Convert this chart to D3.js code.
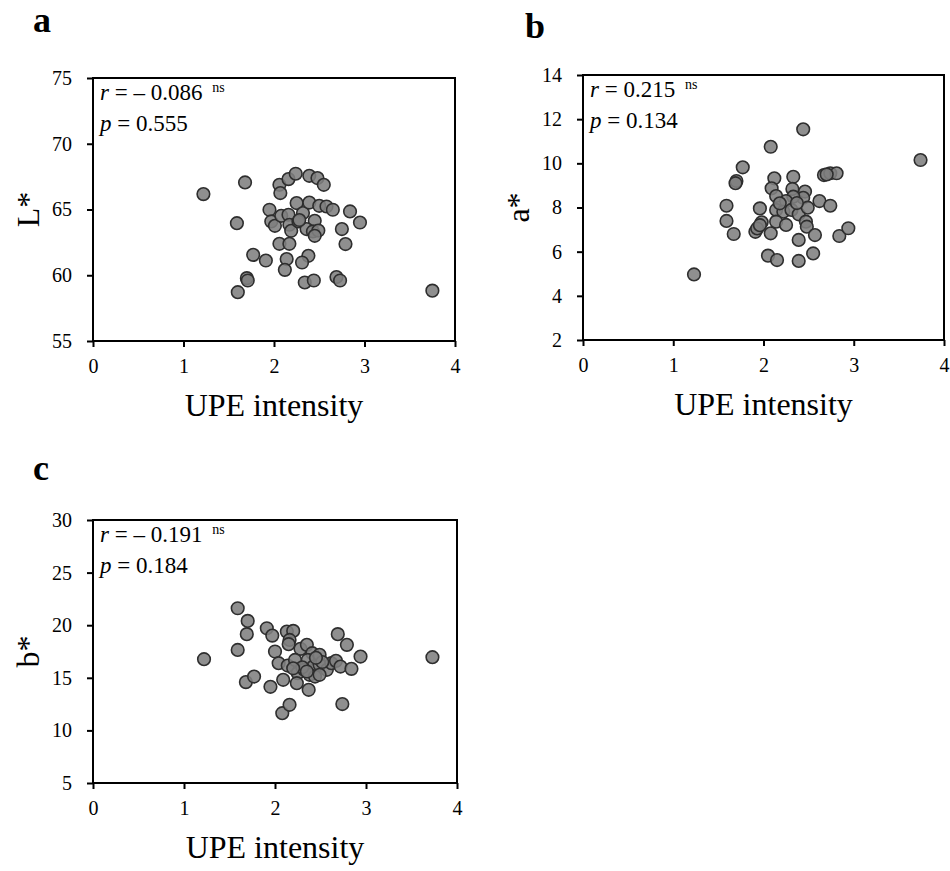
<!DOCTYPE html>
<html>
<head>
<meta charset="utf-8">
<script src="https://cdn.jsdelivr.net/npm/d3@7"></script>
<style>
  body { margin: 0; background: #fff; }
  svg { display: block; }
  text { font-family: "Liberation Serif", "Times New Roman", serif; fill: #000; }
</style>
</head>
<body>
<svg id="chart" width="950" height="871"></svg>
<script>
// ---------- data ----------
const xTicks = [0, 1, 2, 3, 4];

const aUPE = [1.22, 1.68, 1.59, 2.06, 2.07, 2.16, 2.24, 2.39, 2.48, 2.55,
              1.95, 1.97, 2.01, 2.08, 2.16, 2.25, 2.32, 2.17, 2.19, 2.27,
              2.39, 2.45, 2.36, 2.43, 2.49, 2.45, 2.50, 2.58, 2.65, 2.84,
              2.95, 2.75, 2.79, 2.06, 2.17, 1.77, 1.91, 2.14, 2.12, 2.38,
              2.31, 1.70, 1.71, 1.60, 2.34, 2.44, 2.69, 2.73, 3.75, 2.28];
const aL = [66.17, 67.06, 63.96, 66.88, 66.25, 67.31, 67.72, 67.56, 67.39, 66.88,
            64.98, 64.09, 63.76, 64.52, 64.60, 65.49, 64.73, 63.84, 63.38, 64.09,
            65.53, 64.14, 63.51, 63.33, 63.40, 63.00, 65.28, 65.23, 64.98, 64.85,
            64.01, 63.51, 62.37, 62.39, 62.39, 61.55, 61.12, 61.23, 60.41, 61.48,
            60.97, 59.78, 59.60, 58.71, 59.45, 59.60, 59.86, 59.60, 58.83, 64.20];
const aYTicks = [55, 60, 65, 70, 75];

const bUPE = [1.23, 3.74, 2.44, 2.08, 1.77, 1.70, 1.69, 1.59, 1.59, 1.67,
              1.96, 2.12, 2.09, 2.33, 2.32, 2.14, 2.46, 2.44, 2.33, 2.25,
              2.14, 2.22, 2.31, 2.39, 2.49, 2.62, 2.74, 2.67, 2.74, 2.81,
              2.70, 1.98, 1.91, 1.93, 2.08, 2.14, 2.25, 2.47, 2.48, 2.57,
              2.39, 2.84, 2.94, 2.05, 2.15, 2.39, 2.55, 2.18, 2.37, 1.96];
const bA = [4.97, 10.15, 11.54, 10.75, 9.82, 9.20, 9.10, 8.08, 7.39, 6.80,
            7.96, 9.32, 8.87, 9.39, 8.84, 8.52, 8.72, 8.44, 8.49, 8.29,
            7.89, 7.81, 7.89, 7.69, 7.99, 8.29, 8.08, 9.47, 9.55, 9.55,
            9.50, 7.33, 6.90, 7.05, 6.83, 7.36, 7.21, 7.36, 7.13, 6.75,
            6.53, 6.71, 7.06, 5.82, 5.62, 5.58, 5.92, 8.19, 8.20, 7.20];
const bYTicks = [2, 4, 6, 8, 10, 12, 14];

const cUPE = [1.22, 1.59, 1.70, 1.69, 1.59, 1.68, 1.77, 1.91, 1.97, 2.00,
              1.95, 2.04, 2.09, 2.13, 2.20, 2.16, 2.15, 2.08, 2.16, 2.14,
              2.25, 2.24, 2.28, 2.35, 2.41, 2.36, 2.42, 2.32, 2.38, 2.44,
              2.37, 2.49, 2.57, 2.62, 2.67, 2.72, 2.84, 2.69, 2.79, 2.94,
              2.74, 3.73, 2.49, 2.22, 2.49, 2.52, 2.30, 2.45, 2.35, 2.20];
const cB = [16.77, 21.61, 20.41, 19.15, 17.65, 14.59, 15.12, 19.71, 19.01, 17.50,
            14.14, 16.39, 14.81, 19.39, 19.46, 18.60, 18.20, 11.64, 12.43, 16.16,
            15.44, 14.49, 17.75, 18.13, 17.34, 16.70, 16.07, 15.76, 15.28, 15.12,
            13.86, 16.23, 15.76, 16.39, 16.61, 16.07, 15.85, 19.15, 18.13, 17.02,
            12.50, 16.96, 17.18, 16.70, 15.28, 16.50, 16.00, 16.90, 15.60, 15.90];
const cYTicks = [5, 10, 15, 20, 25, 30];

const panelLetters = ["a", "b", "c"];
const yTitles = ["L*", "a*", "b*"];
const xTitle = "UPE intensity";
const rValues = ["\u2013 0.086", "0.215", "\u2013 0.191"];
const pValues = ["0.555", "0.134", "0.184"];
const sigLabel = "ns";

// ---------- layout ----------
const panels = [
  { x: aUPE, y: aL, yTicks: aYTicks, left: 93, top: 78, w: 362, h: 263, letterX: 33, letterY: 32 },
  { x: bUPE, y: bA, yTicks: bYTicks, left: 583, top: 75, w: 361, h: 265, letterX: 525, letterY: 38 },
  { x: cUPE, y: cB, yTicks: cYTicks, left: 93, top: 520, w: 364, h: 263, letterX: 33, letterY: 480 }
];

const svg = d3.select("#chart");

panels.forEach((p, i) => {
  const g = svg.append("g").attr("transform", `translate(${p.left},${p.top})`);
  const xs = d3.scaleLinear().domain([xTicks[0], xTicks[xTicks.length - 1]]).range([0, p.w]);
  const ys = d3.scaleLinear().domain([p.yTicks[0], p.yTicks[p.yTicks.length - 1]]).range([p.h, 0]);

  // axes
  const xAxis = g.append("g").attr("transform", `translate(0,${p.h})`)
    .call(d3.axisBottom(xs).tickValues(xTicks).tickFormat(d3.format("d")).tickSize(6).tickPadding(12));
  const yAxis = g.append("g")
    .call(d3.axisLeft(ys).tickValues(p.yTicks).tickFormat(d3.format("d")).tickSize(6).tickPadding(15));
  [xAxis, yAxis].forEach(ax => {
    ax.select(".domain").remove();
    ax.selectAll(".tick line").attr("stroke", "#000").attr("stroke-width", 2);
    ax.selectAll(".tick text").attr("font-size", 20).attr("font-family", "Liberation Serif").attr("fill", "#000");
  });

  // frame
  g.append("rect").attr("x", 0).attr("y", 0).attr("width", p.w).attr("height", p.h)
    .attr("fill", "none").attr("stroke", "#000").attr("stroke-width", 2);

  // points
  g.append("g").selectAll("circle").data(p.x.map((v, k) => [v, p.y[k]])).join("circle")
    .attr("cx", d => xs(d[0])).attr("cy", d => ys(d[1])).attr("r", 6.3)
    .attr("fill", "#808080").attr("fill-opacity", 0.88)
    .attr("stroke", "#2e2e2e").attr("stroke-width", 1.6);

  // annotation
  const rt = g.append("text").attr("x", 7).attr("y", 22).attr("font-size", 23);
  rt.append("tspan").attr("font-style", "italic").text("r");
  rt.append("tspan").text(" = " + rValues[i] + " ");
  rt.append("tspan").attr("font-size", 14).attr("dy", -8).attr("dx", 4).text(sigLabel);
  const pt = g.append("text").attr("x", 7).attr("y", 53).attr("font-size", 23);
  pt.append("tspan").attr("font-style", "italic").text("p");
  pt.append("tspan").text(" = " + pValues[i]);

  // axis titles
  g.append("text").attr("x", p.w / 2).attr("y", p.h + 75).attr("text-anchor", "middle")
    .attr("font-size", 32).text(xTitle);
  g.append("text").attr("transform", `translate(-54,${p.h / 2}) rotate(-90)`)
    .attr("text-anchor", "middle").attr("font-size", 32).text(yTitles[i]);

  // panel letter
  svg.append("text").attr("x", p.letterX).attr("y", p.letterY)
    .attr("font-size", 36).attr("font-weight", "bold").text(panelLetters[i]);
});
</script>
</body>
</html>
